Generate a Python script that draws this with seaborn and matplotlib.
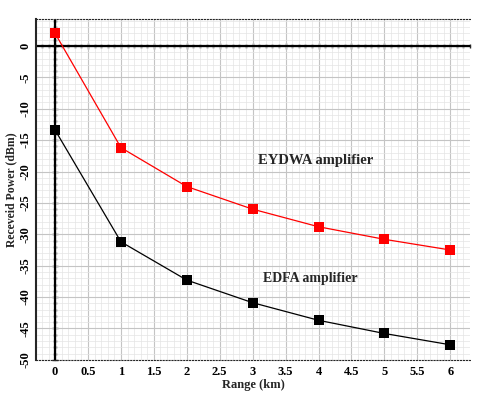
import numpy as np
import matplotlib
matplotlib.use('Agg')
import matplotlib.pyplot as plt
import seaborn as sns
import pandas as pd

# data
range_km = [0, 1, 2, 3, 4, 5, 6]
eydwa_power = [2.0, -16.2, -22.4, -26.0, -28.8, -30.8, -32.5]
edfa_power = [-13.4, -31.2, -37.3, -40.9, -43.7, -45.8, -47.6]
x_ticks = [0, 0.5, 1, 1.5, 2, 2.5, 3, 3.5, 4, 4.5, 5, 5.5, 6]
y_ticks = [0, -5, -10, -15, -20, -25, -30, -35, -40, -45, -50]

df = pd.DataFrame({'Range': range_km + range_km,
                   'Power': eydwa_power + edfa_power,
                   'Amp': ['EYDWA'] * 7 + ['EDFA'] * 7})

sns.set_style('white')
plt.rcParams['font.family'] = ['Liberation Serif', 'DejaVu Serif']
plt.rcParams['font.weight'] = 'bold'

fig = plt.figure(figsize=(5.0, 3.95), dpi=100)
ax = fig.add_axes([0.072, 0.089, 0.868, 0.863])

sns.lineplot(data=df, x='Range', y='Power', hue='Amp',
             palette={'EYDWA': '#ff0000', 'EDFA': '#000000'},
             marker='s', markersize=6.5, markeredgewidth=0, linewidth=0.9,
             legend=False, ax=ax)

ax.set_xlim(-0.29, 6.3)
ax.set_ylim(-50, 4.3)
ax.set_xticks(x_ticks)
ax.set_xticklabels([f'{t:g}' for t in x_ticks], fontsize=9, fontweight='bold')
ax.set_yticks(y_ticks)
ax.set_yticklabels([f'{t:g}' for t in y_ticks], fontsize=9, fontweight='bold',
                   rotation=90, va='center')
ax.set_xticks(np.arange(-0.2, 6.31, 0.1), minor=True)
ax.set_yticks(np.arange(-50, 4.31, 1), minor=True)

ax.grid(which='major', color='#c4c4c4', linewidth=0.8)
ax.grid(which='minor', color='#e4e4e4', linewidth=0.5)
ax.set_axisbelow(True)

# solid axis lines through zero
ax.axhline(0, color='black', linewidth=1.6, zorder=1.5)
ax.axvline(0, color='black', linewidth=1.6, zorder=1.5)

# ticks along those lines
xzero = ax.secondary_xaxis(0, transform=ax.transData)
xzero.set_xticks(x_ticks, labels=[])
xzero.set_xticks(np.arange(-0.2, 6.31, 0.1), minor=True)
xzero.tick_params(which='both', direction='inout', length=5, width=1)
xzero.tick_params(which='minor', length=3)

yzero = ax.secondary_yaxis(0, transform=ax.transData)
yzero.set_yticks(y_ticks, labels=[])
yzero.set_yticks(np.arange(-50, 4.31, 1), minor=True)
yzero.tick_params(which='both', direction='inout', length=5, width=1)
yzero.tick_params(which='minor', length=3)

ax.spines['right'].set_visible(False)
ax.spines['top'].set_linestyle(':')
ax.spines['bottom'].set_linestyle(':')
ax.spines['left'].set_linewidth(1.5)
ax.tick_params(which='both', direction='inout', length=5, width=1, colors='black')
ax.tick_params(which='minor', length=3)
ax.tick_params(axis='x', pad=2)
ax.tick_params(axis='y', pad=1)

ax.set_xlabel('Range (km)', fontsize=9, fontweight='bold', labelpad=1)
ax.set_ylabel('Receveid Power (dBm)', fontsize=8.5, fontweight='bold', labelpad=1)

ax.text(3.08, -18.2, 'EYDWA amplifier', fontsize=10.5, fontweight='bold', va='center')
ax.text(3.16, -37.1, 'EDFA amplifier', fontsize=10, fontweight='bold', va='center')

plt.savefig('out.png', dpi=100)
